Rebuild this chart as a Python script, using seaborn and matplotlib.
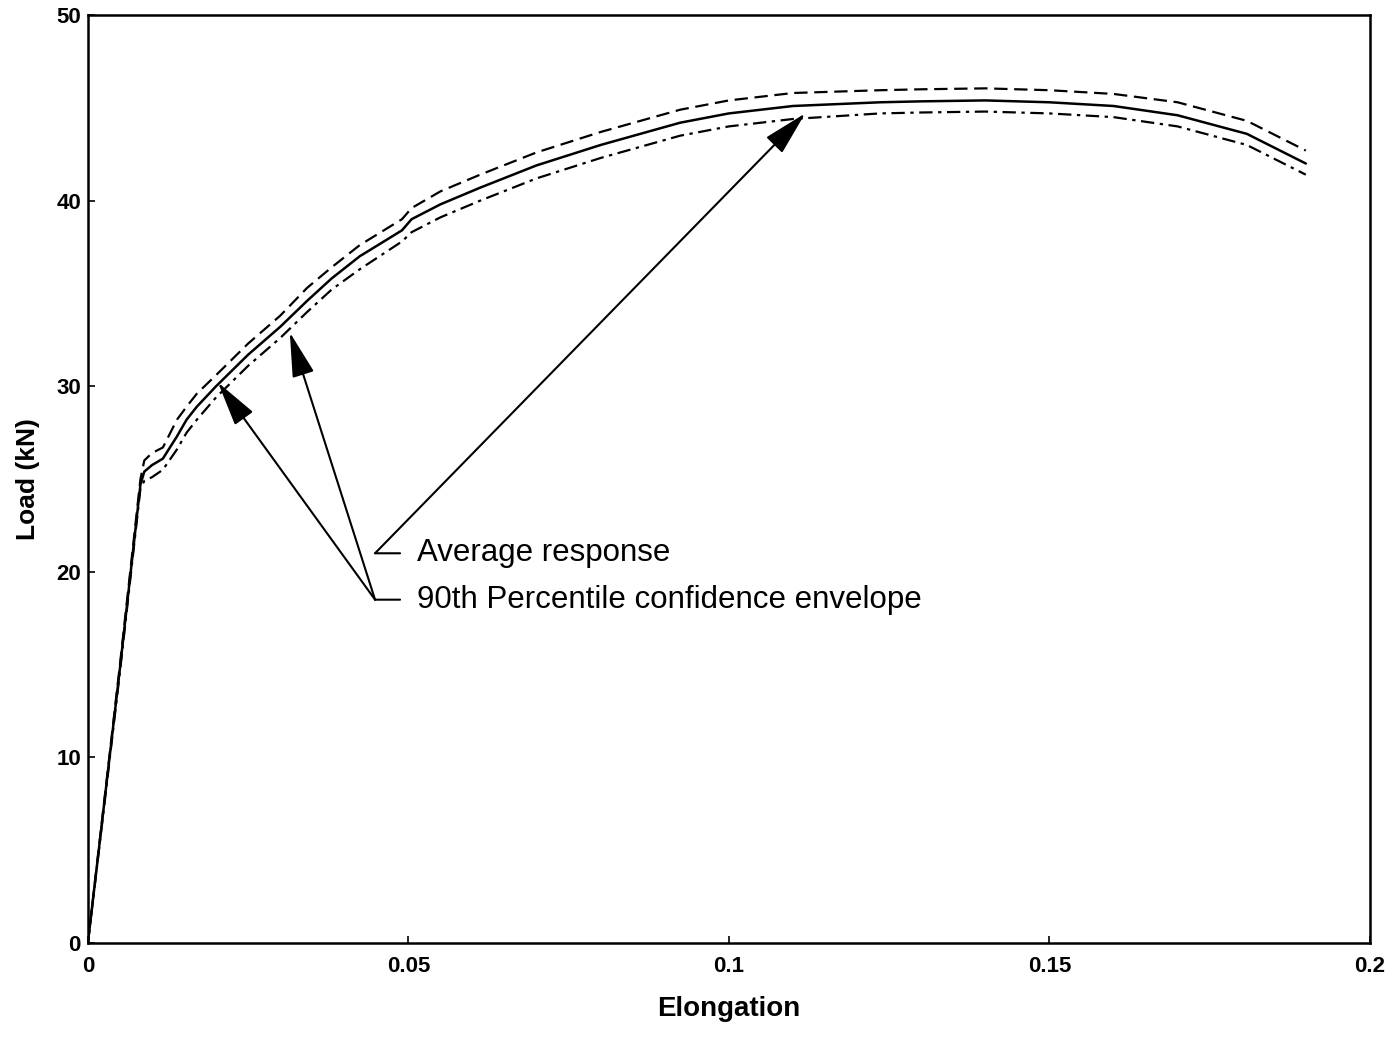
import matplotlib
matplotlib.use("Agg")
import matplotlib.pyplot as plt
import seaborn as sns
import pandas as pd

sns.set_style("ticks")
plt.rcParams['font.family'] = ['Liberation Sans', 'DejaVu Sans']
plt.rcParams.update({"text.color": "black", "axes.labelcolor": "black",
                     "xtick.color": "black", "ytick.color": "black",
                     "axes.edgecolor": "black"})

elongation = [0, 0.002, 0.005, 0.0082, 0.0088, 0.01, 0.0117, 0.0139, 0.0154, 0.017,
              0.02, 0.025, 0.03, 0.0342, 0.038, 0.0424, 0.049, 0.0505, 0.055, 0.0612,
              0.07, 0.08, 0.0924, 0.1, 0.11, 0.1236, 0.13, 0.14, 0.15, 0.16,
              0.17, 0.1808, 0.19]
average = [0, 5.9, 14.8, 24.7, 25.4, 25.75, 26.1, 27.3, 28.2, 28.9,
           30.0, 31.7, 33.2, 34.6, 35.8, 37.0, 38.4, 39.0, 39.8, 40.7,
           41.9, 43.0, 44.2, 44.7, 45.1, 45.3, 45.35, 45.4, 45.3, 45.1,
           44.6, 43.6, 42.0]
upper = [0, 6.0, 15.0, 25.0, 26.0, 26.4, 26.7, 28.2, 28.9, 29.6,
         30.6, 32.3, 33.8, 35.3, 36.4, 37.6, 39.0, 39.6, 40.5, 41.4,
         42.6, 43.7, 44.9, 45.4, 45.8, 45.95, 46.0, 46.05, 45.95, 45.75,
         45.3, 44.3, 42.7]
lower = [0, 5.8, 14.6, 24.5, 24.9, 25.1, 25.5, 26.6, 27.5, 28.2,
         29.4, 31.1, 32.6, 34.0, 35.2, 36.3, 37.8, 38.3, 39.1, 40.0,
         41.2, 42.3, 43.5, 44.0, 44.4, 44.7, 44.75, 44.8, 44.7, 44.5,
         44.0, 43.0, 41.4]

df = pd.DataFrame({"Elongation": elongation, "avg": average, "up": upper, "lo": lower})

fig = plt.figure(figsize=(13.95, 10.38), dpi=100)
ax = fig.add_axes([0.063, 0.0915, 0.919, 0.894])

sns.lineplot(data=df, x="Elongation", y="avg", ax=ax, color="black", lw=1.8)
sns.lineplot(data=df, x="Elongation", y="up", ax=ax, color="black", lw=1.6,
             linestyle=(0, (6, 3)))
sns.lineplot(data=df, x="Elongation", y="lo", ax=ax, color="black", lw=1.6,
             linestyle=(0, (6, 2.5, 1.5, 2.5)))

ax.set_xlim(0, 0.2)
ax.set_ylim(0, 50)
ax.set_xticks([0, 0.05, 0.1, 0.15, 0.2])
ax.set_xticklabels(["0", "0.05", "0.1", "0.15", "0.2"])
ax.set_yticks([0, 10, 20, 30, 40, 50])
ax.set_yticklabels(["0", "10", "20", "30", "40", "50"])
ax.tick_params(axis="both", direction="in", length=5, width=1.2, labelsize=16)
ax.tick_params(axis="x", pad=9)
ax.tick_params(axis="y", pad=5)
for lab in ax.get_xticklabels() + ax.get_yticklabels():
    lab.set_fontweight("bold")
for s in ax.spines.values():
    s.set_linewidth(1.8)
    s.set_visible(True)

ax.set_xlabel("Elongation", fontsize=20, fontweight="bold", labelpad=14)
ax.set_ylabel("Load (kN)", fontsize=19, fontweight="bold", labelpad=12)

arrow = dict(arrowstyle="-|>,head_length=1.4,head_width=0.35", color="black",
             lw=1.5, shrinkA=0, shrinkB=0, mutation_scale=20)
plain = dict(arrowstyle="-", color="black", lw=1.5, shrinkA=0, shrinkB=0)

# Average response leader
ax.annotate("", xy=(0.0448, 21.0), xytext=(0.0487, 21.0), arrowprops=plain)
ax.annotate("", xy=(0.1119, 44.7), xytext=(0.0448, 21.0), arrowprops=arrow)
ax.text(0.0513, 21.0, "Average response", fontsize=22.5, va="center", ha="left")

# Envelope leader
ax.annotate("", xy=(0.0448, 18.5), xytext=(0.0487, 18.5), arrowprops=plain)
ax.annotate("", xy=(0.0203, 30.2), xytext=(0.0448, 18.5), arrowprops=arrow)
ax.annotate("", xy=(0.0315, 32.9), xytext=(0.0448, 18.5), arrowprops=arrow)
ax.text(0.0513, 18.5, "90th Percentile confidence envelope", fontsize=22.5,
        va="center", ha="left")

fig.savefig("out.png", dpi=100)
